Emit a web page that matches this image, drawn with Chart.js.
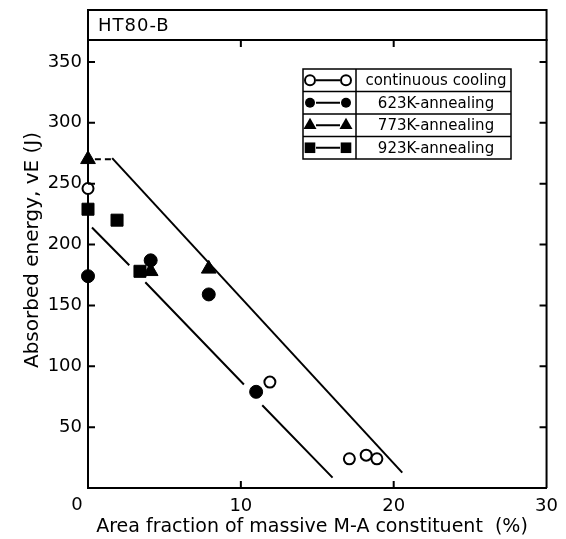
<!DOCTYPE html>
<html>
<head>
<title>HT80-B absorbed energy vs massive M-A</title>
<script src="https://cdn.jsdelivr.net/npm/chart.js"></script>
<style>
  html, body { margin: 0; padding: 0; background: #fff; }
</style>
</head>
<body>
<canvas id="energyChart" width="566" height="539"></canvas>
<script>
// values
const xTicks = [0, 10, 20, 30];
const yTicks = [0, 50, 100, 150, 200, 250, 300, 350];

const coolX = [0, 11.9, 17.1, 18.2, 18.9];
const coolY = [246, 87, 24, 27, 24];
const a623X = [0, 4.1, 7.9, 11.0];
const a623Y = [174, 187, 159, 79];
const a773X = [0, 4.1, 7.9];
const a773Y = [270, 178, 180];
const a923X = [0, 1.9, 3.4];
const a923Y = [229, 220, 178];

// band lines (null = break in the line)
const upperX = [1.58, 20.56];
const upperY = [271, 12.6];
const dashX = [0.45, 1.5];
const dashY = [270, 270];
const lowerX = [0.26, 2.7, 2.7, 3.75, 10.2, 10.2, 11.4, 16.0];
const lowerY = [214, 183, null, 169, 85, null, 68, 8.5];

const xTitle = 'Area fraction of massive M-A constituent  (%)';
const yTitle = 'Absorbed energy, vE (J)';
const chartTitle = 'HT80-B';

const FONT = '"DejaVu Sans", sans-serif';
const pts = (xs, ys) => xs.map((x, i) => ({ x: x, y: ys[i] }));

function drawMarker(ctx, style, filled, x, y, r) {
    ctx.beginPath();
    if (style === 'circle') {
        ctx.arc(x, y, r, 0, Math.PI * 2);
    } else if (style === 'triangle') {
        ctx.moveTo(x, y - r);
        ctx.lineTo(x + r * 0.866, y + r / 2);
        ctx.lineTo(x - r * 0.866, y + r / 2);
        ctx.closePath();
    } else {
        const s = r * Math.SQRT1_2;
        ctx.rect(x - s, y - s, 2 * s, 2 * s);
    }
    if (filled) ctx.fill(); else ctx.stroke();
}

const framePlugin = {
    id: 'frame',
    afterDraw(chart) {
        const ctx = chart.ctx;
        const a = chart.chartArea;
        const xs = chart.scales.x, ys = chart.scales.y;
        ctx.save();
        ctx.strokeStyle = '#000';
        ctx.fillStyle = '#000';
        ctx.lineWidth = 2;

        // top + right border
        ctx.beginPath();
        ctx.moveTo(a.left, a.top);
        ctx.lineTo(a.right, a.top);
        ctx.lineTo(a.right, a.bottom);
        ctx.stroke();

        // inward ticks
        ctx.beginPath();
        yTicks.forEach(v => {
            if (v === 0) return;
            const py = ys.getPixelForValue(v);
            ctx.moveTo(a.left, py); ctx.lineTo(a.left + 7, py);
            ctx.moveTo(a.right, py); ctx.lineTo(a.right - 7, py);
        });
        xTicks.forEach(v => {
            if (v === 0 || v === 30) return;
            const px = xs.getPixelForValue(v);
            ctx.moveTo(px, a.bottom); ctx.lineTo(px, a.bottom - 7);
            ctx.moveTo(px, a.top); ctx.lineTo(px, a.top + 7);
        });
        ctx.stroke();

        // origin label
        ctx.font = '18px ' + FONT;
        ctx.textAlign = 'center';
        ctx.textBaseline = 'middle';
        ctx.fillText('0', a.left - 11, a.bottom + 17);

        // axis titles
        ctx.font = '19px ' + FONT;
        ctx.fillText(xTitle, 312, 527);
        ctx.save();
        ctx.translate(33, 250);
        ctx.rotate(-Math.PI / 2);
        ctx.font = '20px ' + FONT;
        ctx.fillText(yTitle, 0, 0);
        ctx.restore();

        // title box
        ctx.strokeRect(a.left, 10, a.right - a.left, a.top - 10);
        ctx.textAlign = 'left';
        ctx.font = '18px ' + FONT;
        ctx.letterSpacing = '1px';
        ctx.fillText(chartTitle, a.left + 10, 26);
        ctx.letterSpacing = '0px';

        // legend table
        const lx = 303, ly = 69, lw = 208, rh = 22.5, div = 356;
        const entries = chart.data.datasets.filter(d => d.marker);
        ctx.lineWidth = 1.5;
        ctx.strokeRect(lx, ly, lw, rh * entries.length);
        ctx.beginPath();
        ctx.moveTo(div, ly); ctx.lineTo(div, ly + rh * entries.length);
        for (let i = 1; i < entries.length; i++) {
            ctx.moveTo(lx, ly + rh * i); ctx.lineTo(lx + lw, ly + rh * i);
        }
        ctx.stroke();
        ctx.font = '15px ' + FONT;
        ctx.textAlign = 'center';
        entries.forEach((d, i) => {
            const cy = ly + rh * i + rh / 2;
            ctx.lineWidth = 2;
            ctx.beginPath();
            ctx.moveTo(316, cy); ctx.lineTo(340, cy);
            ctx.stroke();
            const r = d.marker === 'circle' ? 5 : 7.5;
            drawMarker(ctx, d.marker, d.filled, 310, cy, r);
            drawMarker(ctx, d.marker, d.filled, 346, cy, r);
            ctx.fillText(d.label, 436, cy + 1, 148);
        });
        ctx.restore();
    }
};

const markerSet = (label, xs, ys, style, filled, r) => ({
    label: label,
    data: pts(xs, ys),
    marker: style,
    filled: filled,
    pointStyle: style,
    pointRadius: r,
    pointHoverRadius: r,
    pointBackgroundColor: filled ? '#000' : '#fff',
    pointBorderColor: '#000',
    pointBorderWidth: filled ? 1 : 2,
    showLine: false,
    clip: false
});

const lineSet = (xs, ys, dash) => ({
    label: '',
    data: pts(xs, ys),
    showLine: true,
    spanGaps: false,
    borderColor: '#000',
    borderWidth: 2,
    borderDash: dash || [],
    pointRadius: 0,
    clip: false
});

new Chart(document.getElementById('energyChart'), {
    type: 'scatter',
    data: {
        datasets: [
            lineSet(upperX, upperY),
            lineSet(dashX, dashY, [6, 4]),
            lineSet(lowerX, lowerY),
            markerSet('continuous cooling', coolX, coolY, 'circle', false, 5.5),
            markerSet('623K-annealing', a623X, a623Y, 'circle', true, 6.5),
            markerSet('773K-annealing', a773X, a773Y, 'triangle', true, 8.5),
            markerSet('923K-annealing', a923X, a923Y, 'rect', true, 8.5)
        ]
    },
    options: {
        responsive: false,
        animation: false,
        devicePixelRatio: 1,
        layout: { padding: { top: 40, right: 18, left: 0, bottom: 0 } },
        plugins: { legend: { display: false }, tooltip: { enabled: false } },
        scales: {
            x: {
                type: 'linear',
                min: 0,
                max: 30,
                afterBuildTicks: s => { s.ticks = xTicks.map(v => ({ value: v })); },
                afterFit: s => { s.height = 51; },
                grid: { display: false, drawTicks: false },
                border: { color: '#000', width: 2 },
                ticks: {
                    color: '#000',
                    font: { family: FONT, size: 18 },
                    padding: 8,
                    maxRotation: 0,
                    autoSkip: false,
                    callback: v => v === 0 ? '' : v
                }
            },
            y: {
                type: 'linear',
                min: 0,
                max: 368,
                afterBuildTicks: s => { s.ticks = yTicks.map(v => ({ value: v })); },
                afterFit: s => { s.width = 88; },
                grid: { display: false, drawTicks: false },
                border: { color: '#000', width: 2 },
                ticks: {
                    color: '#000',
                    font: { family: FONT, size: 18 },
                    padding: 6,
                    autoSkip: false,
                    callback: v => v === 0 ? '' : v
                }
            }
        }
    },
    plugins: [framePlugin]
});
</script>
</body>
</html>
